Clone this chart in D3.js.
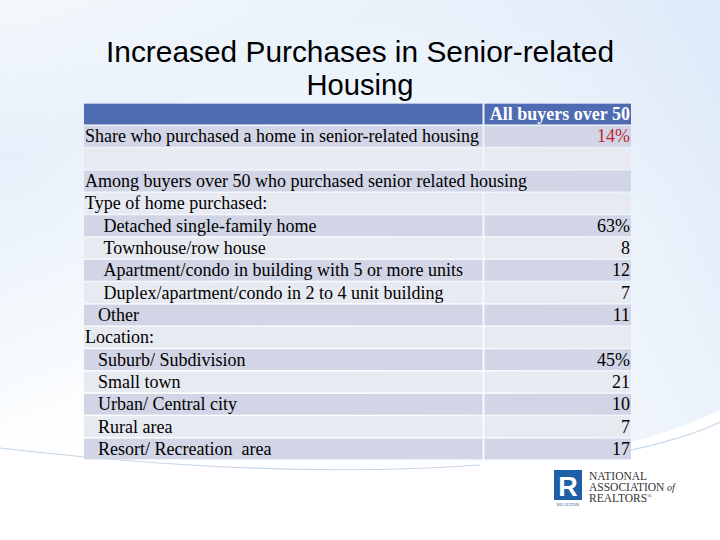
<!DOCTYPE html>
<html><head><meta charset="utf-8">
<script src="https://cdn.jsdelivr.net/npm/d3@7"></script>
<style>body{margin:0;background:#fff}svg{display:block}
.serif{font-family:'Liberation Serif','Times New Roman','DejaVu Serif',serif}
.sans{font-family:'Liberation Sans',Arial,sans-serif}</style>
</head><body>
<script>
const titleLines = ["Increased Purchases in Senior-related", "Housing"];
const columnHeader = "All buyers over 50";
const rowLabels = [
  "Share who purchased a home in senior-related housing",
  "",
  "Among buyers over 50 who purchased senior related housing",
  "Type of home purchased:",
  "Detached single-family home",
  "Townhouse/row house",
  "Apartment/condo in building with 5 or more units",
  "Duplex/apartment/condo in 2 to 4 unit building",
  "Other",
  "Location:",
  "Suburb/ Subdivision",
  "Small town",
  "Urban/ Central city",
  "Rural area",
  "Resort/ Recreation  area"
];
const rowValues = ["14%", "", "", "", "63%", "8", "12", "7", "11", "", "45%", "21", "10", "7", "17"];
const rowIndent = [0, 0, 0, 0, 2, 2, 2, 2, 1, 0, 1, 1, 1, 1, 1];
const mergedRows = [false, false, true, false, false, false, false, false, false, false, false, false, false, false, false];
const logoLines = [["NATIONAL", ""], ["ASSOCIATION", " of"], ["REALTORS", "®"]];

const W = 720, H = 540;
const svg = d3.select("body").append("svg").attr("width", W).attr("height", H);
const defs = svg.append("defs");
const bg = defs.append("linearGradient").attr("id", "bg").attr("x1", "0").attr("y1", "0").attr("x2", "0.6").attr("y2", "1");
bg.append("stop").attr("offset", "0").attr("stop-color", "#f3f7fc");
bg.append("stop").attr("offset", "0.25").attr("stop-color", "#e6f0fa");
bg.append("stop").attr("offset", "0.75").attr("stop-color", "#ffffff");
const bg2 = defs.append("linearGradient").attr("id", "bg2").attr("x1", "1").attr("y1", "0").attr("x2", "0").attr("y2", "0.3");
bg2.append("stop").attr("offset", "0").attr("stop-color", "#dce9f8");
bg2.append("stop").attr("offset", "1").attr("stop-color", "#ffffff").attr("stop-opacity", 0);
svg.append("rect").attr("width", W).attr("height", H).attr("fill", "#ffffff");
svg.append("rect").attr("width", W).attr("height", 470).attr("fill", "url(#bg)");
svg.append("rect").attr("width", W).attr("height", 470).attr("fill", "url(#bg2)");
svg.append("path").attr("d", "M0,450 C200,475 420,470 560,455 C630,448 690,425 720,410 L720,540 L0,540 Z").attr("fill", "#ffffff");
svg.append("path").attr("d", "M0,448 C120,462 300,478 480,465").attr("fill", "none").attr("stroke", "#c7d6e6").attr("stroke-width", 1.2);
svg.append("path").attr("d", "M620,452 C660,445 700,432 720,422").attr("fill", "none").attr("stroke", "#c9d9ea").attr("stroke-width", 1.2);

svg.append("g").selectAll("text").data(titleLines).join("text")
  .attr("class", "sans")
  .attr("x", 360).attr("y", (d, i) => 62 + i * 33)
  .attr("text-anchor", "middle")
  .attr("font-size", 30).attr("fill", "#000")
  .attr("textLength", (d, i) => i === 0 ? 508 : 107).attr("lengthAdjust", "spacingAndGlyphs")
  .text(d => d);

const x0 = 84, x1 = 631, xDiv = 483.5;
const allRows = ["header"].concat(rowLabels);
const y = d3.scaleBand().domain(d3.range(allRows.length)).range([103, 460]).paddingInner(0.07).paddingOuter(0.03);
const tbl = svg.append("g");
tbl.append("rect").attr("x", x0).attr("y", y(0)).attr("width", xDiv - x0 - 1).attr("height", y.bandwidth()).attr("fill", "#4f6bb2");
tbl.append("rect").attr("x", xDiv + 1).attr("y", y(0)).attr("width", x1 - xDiv - 1).attr("height", y.bandwidth()).attr("fill", "#4f6bb2");
tbl.append("text").attr("class", "serif").attr("x", x1 - 1).attr("y", y(0) + y.bandwidth() - 4.5).attr("text-anchor", "end")
  .attr("font-size", 18).attr("font-weight", "bold")
  .attr("fill", "#fff").text(columnHeader);

const rows = tbl.selectAll("g.row").data(rowLabels.map((l, i) => ({label: l, value: rowValues[i], indent: rowIndent[i], merged: mergedRows[i], i: i + 1}))).join("g");
const fillFor = d => (d.i % 2 === 1) ? "#d1d5e5" : "#e8eaf2";
rows.filter(d => d.merged).append("rect").attr("x", x0).attr("y", d => y(d.i)).attr("width", x1 - x0).attr("height", y.bandwidth()).attr("fill", fillFor);
rows.filter(d => !d.merged).append("rect").attr("x", x0).attr("y", d => y(d.i)).attr("width", xDiv - x0 - 1).attr("height", y.bandwidth()).attr("fill", fillFor);
rows.filter(d => !d.merged).append("rect").attr("x", xDiv + 1).attr("y", d => y(d.i)).attr("width", x1 - xDiv - 1).attr("height", y.bandwidth()).attr("fill", fillFor);
rows.append("text").attr("class", "serif").attr("x", d => x0 + 1 + [0, 13, 18.5][d.indent]).attr("y", d => y(d.i) + y.bandwidth() - 4.5)
  .attr("font-size", 18).attr("fill", "#000").style("white-space", "pre")
  .text(d => d.label);
rows.append("text").attr("class", "serif").attr("x", x1 - 1).attr("y", d => y(d.i) + y.bandwidth() - 4.5).attr("text-anchor", "end")
  .attr("font-size", 18)
  .attr("fill", d => d.i === 1 ? "#c0272d" : "#000")
  .text(d => d.value);

const lg = svg.append("g");
lg.append("rect").attr("x", 554).attr("y", 470).attr("width", 28).attr("height", 30).attr("fill", "#1f5fa8");
lg.append("text").attr("class", "sans").attr("x", 568).attr("y", 496).attr("text-anchor", "middle").attr("font-weight", "bold").attr("font-size", 27).attr("fill", "#fff").text("R");
lg.append("text").attr("class", "serif").attr("x", 568).attr("y", 506).attr("text-anchor", "middle").attr("font-size", 5).attr("fill", "#1f5fa8").text("REALTOR");
const lt = lg.append("text").attr("class", "serif").attr("font-size", 11.5).attr("fill", "#333");
logoLines.forEach((ln, i) => {
  lt.append("tspan").attr("x", 589).attr("y", 480 + i * 11).text(ln[0]);
  if (ln[1] === " of") lt.append("tspan").attr("font-style", "italic").attr("font-size", 10).text(ln[1]);
  else if (ln[1]) lt.append("tspan").attr("font-size", 6).attr("dy", -4).text(ln[1]);
});
</script>
</body></html>
